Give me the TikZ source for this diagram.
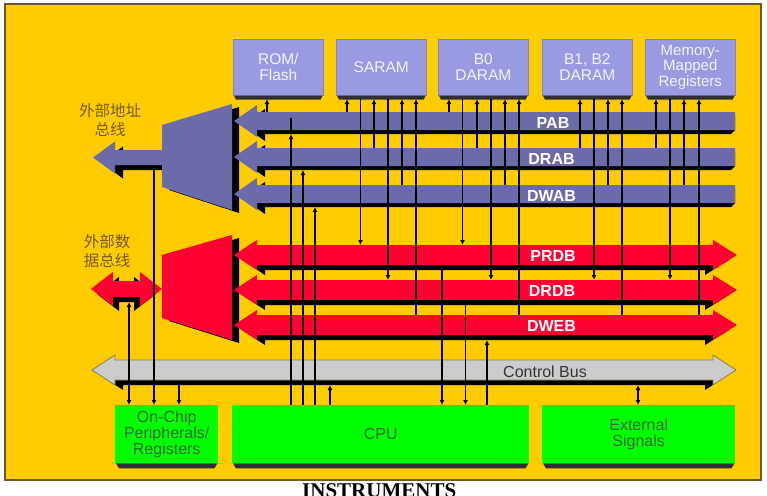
\documentclass[tikz,border=0pt]{standalone}
\usepackage{fontspec}
\setmainfont{Liberation Sans}
\newfontfamily\cjk{Noto Sans CJK SC}
\newfontfamily\serifb{Liberation Serif}
\usetikzlibrary{arrows.meta}
\definecolor{gold}{HTML}{FFCC00}
\definecolor{framec}{HTML}{6B5A2A}
\definecolor{memfill}{HTML}{9A9AE2}
\definecolor{memtext}{HTML}{F4F4FF}
\definecolor{addrbus}{HTML}{6B6BAA}
\definecolor{databus}{HTML}{FF0033}
\definecolor{ctrlbus}{HTML}{CCCCCC}
\definecolor{ctrledge}{HTML}{8C7B55}
\definecolor{chip}{HTML}{00FF00}
\definecolor{chiptext}{HTML}{2F6A2F}
\definecolor{cnbrown}{HTML}{76591A}
\definecolor{boxshade}{HTML}{2E2E36}
\newcommand\addrbusshape[1]{%
  \fill[black] (242,#1+4) -- (265,#1-12) -- (265,#1-5) -- (735,#1-5) -- (735,#1+9) -- (731,#1+13) -- (265,#1+13) -- (265,#1+20) -- cycle;
  \fill[addrbus] (234,#1) -- (257,#1-16) -- (257,#1-9) -- (735,#1-9) -- (735,#1+9) -- (257,#1+9) -- (257,#1+16) -- cycle;}
\newcommand\databusshape[1]{%
  \fill[black] (242,#1+5) -- (265,#1-10) -- (265,#1-5) -- (705,#1-5) -- (705,#1-10) -- (729,#1+5) -- (705,#1+20) -- (705,#1+15) -- (265,#1+15) -- (265,#1+20) -- cycle;
  \fill[databus] (234,#1) -- (257,#1-15) -- (257,#1-10) -- (713,#1-10) -- (713,#1-15) -- (737,#1) -- (713,#1+15) -- (713,#1+10) -- (257,#1+10) -- (257,#1+15) -- cycle;}
\begin{document}
\begin{tikzpicture}[x=1pt,y=-1pt,
  wire/.style={line width=1.8pt, draw=black},
  sig/.style={wire, -{Latex[length=5pt,width=5pt]}},
  bsig/.style={wire, {Latex[length=5pt,width=5pt]}-{Latex[length=5pt,width=5pt]}},
  membox/.style={rectangle, fill=memfill, draw=memfill!85!black, line width=0.6pt, inner sep=0pt,
    minimum width=90pt, minimum height=56pt, anchor=north west, align=center, text=memtext,
    font=\fontsize{15.5}{16}\selectfont},
  chipbox/.style={rectangle, fill=chip, inner sep=0pt, minimum height=58pt, anchor=north west,
    align=center, text=chiptext, font=\fontsize{16}{16}\selectfont},
  buslabel/.style={text=white, font=\bfseries\fontsize{16}{16}\selectfont, inner sep=0pt},
  cnlabel/.style={text=cnbrown, font=\cjk\fontsize{15.5}{19}\selectfont, align=center, inner sep=0pt},
]
\useasboundingbox (0,0) rectangle (767,495);
\fill[white] (0,0) rectangle (767,495);
\filldraw[fill=gold, draw=framec, line width=1.5pt] (5,4) rectangle (761,480);

% external address bus
\fill[black] (101,162.5) -- (123,146.5) -- (123,155) -- (165,155) -- (165,170) -- (123,170) -- (123,178.5) -- cycle;
\fill[addrbus] (93,157.5) -- (115,141.5) -- (115,150) -- (165,150) -- (165,165) -- (115,165) -- (115,173.5) -- cycle;
% external data bus
\fill[black] (97,294) -- (119,277) -- (119,286) -- (134,286) -- (134,277) -- (156,294) -- (134,311) -- (134,302) -- (119,302) -- (119,311) -- cycle;
\fill[databus] (91,289) -- (113,272) -- (113,281) -- (140,281) -- (140,272) -- (162,289) -- (140,306) -- (140,297) -- (113,297) -- (113,306) -- cycle;

% multiplexers
\fill[black] (169,128) -- (239,107) -- (239,213) -- (169,190) -- cycle;
\fill[addrbus] (162,125) -- (232,104) -- (232,210) -- (162,187) -- cycle;
\fill[black] (169,258) -- (239,238) -- (239,343) -- (169,321) -- cycle;
\fill[databus] (162,255) -- (232,235) -- (232,340) -- (162,318) -- cycle;

% internal buses
\addrbusshape{121}
\addrbusshape{157}
\addrbusshape{194}
\databusshape{255}
\databusshape{290}
\databusshape{325}

% control bus
\fill[black] (100,375) -- (123,360) -- (123,365) -- (705,365) -- (705,360) -- (728,375) -- (705,390) -- (705,385) -- (123,385) -- (123,390) -- cycle;
\filldraw[fill=ctrlbus, draw=ctrledge, line width=0.8pt] (92,370) -- (115,355) -- (115,360) -- (713,360) -- (713,355) -- (736,370) -- (713,385) -- (713,380) -- (115,380) -- (115,385) -- cycle;

% bus labels
\node[buslabel] (PAB) at (553,122.5) {PAB};
\node[buslabel] (DRAB) at (551.5,158.5) {DRAB};
\node[buslabel] (DWAB) at (551.5,195.5) {DWAB};
\node[buslabel] (PRDB) at (553,256) {PRDB};
\node[buslabel] (DRDB) at (552,290.5) {DRDB};
\node[buslabel] (DWEB) at (551.5,326) {DWEB};
\node[inner sep=0pt, text=black!80, font=\fontsize{16}{16}\selectfont] (CTRL) at (545,371.5) {Control Bus};

% memory blocks
\node[membox] (rom) at (233,39) {ROM/\\Flash};
\node[membox] (saram) at (336,39) {SARAM};
\node[membox] (bzero) at (438,39) {B0\\DARAM};
\node[membox] (bonetwo) at (542,39) {B1, B2\\DARAM};
\node[membox, font=\fontsize{15}{15.5}\selectfont] (mmr) at (645,39) {Memory-\\Mapped\\Registers};
\foreach \n in {rom,saram,bzero,bonetwo,mmr}
  \fill[boxshade] ([xshift=1pt]\n.south west) -- ([xshift=-1pt]\n.south east) -- ([xshift=-3pt,yshift=-4pt]\n.south east) -- ([xshift=3pt,yshift=-4pt]\n.south west) -- cycle;

% chip blocks
\node[chipbox, minimum width=103pt] (onchip) at (115,405) {On-Chip\\Peripherals/\\Registers};
\node[chipbox, minimum width=297pt] (cpu) at (232,405) {CPU};
\node[chipbox, minimum width=193pt] (extsig) at (542,405) {External\\Signals};
\foreach \n in {onchip,cpu,extsig}
  \fill[boxshade] ([xshift=1pt]\n.south west) -- ([xshift=-1pt]\n.south east) -- ([xshift=-4pt,yshift=-5pt]\n.south east) -- ([xshift=4pt,yshift=-5pt]\n.south west) -- cycle;

% chinese labels
\node[cnlabel] (extaddrlbl) at (110,120) {外部地址\\总线};
\node[cnlabel] (extdatalbl) at (107,251) {外部数\\据总线};

\node[anchor=base west, inner sep=0pt, font=\serifb\bfseries\fontsize{21}{21}\selectfont] (ti) at (302,497) {INSTRUMENTS};

% reference levels
\coordinate (memB) at (0,99);
\coordinate (PABin) at (0,118);
\coordinate (PABt) at (0,112);
\coordinate (PABb) at (0,134);
\coordinate (DRABt) at (0,148);
\coordinate (DRABb) at (0,170);
\coordinate (DWABt) at (0,185);
\coordinate (DWABb) at (0,207);
\coordinate (PRDBt) at (0,245);
\coordinate (PRDBb) at (0,270);
\coordinate (DRDBt) at (0,280);
\coordinate (DRDBb) at (0,305);
\coordinate (DWEBt) at (0,315);
\coordinate (DWEBb) at (0,340);
\coordinate (CTRLb) at (0,385);
\coordinate (EXAb) at (0,170);
\coordinate (EXDb) at (0,302);

% ROM
\draw[sig] (PABt -| 267,0) -- (memB -| 267,0);
% SARAM
\draw[sig] (PABt -| 347,0) -- (memB -| 347,0);
\draw[sig] (memB -| 360.5,0) -- (PRDBt -| 360.5,0);
\draw[sig] (DRABt -| 374,0) -- (memB -| 374,0);
\draw[sig] (memB -| 388,0) -- (DRDBt -| 388,0);
\draw[sig] (DWABt -| 402,0) -- (memB -| 402,0);
\draw[sig] (DWEBt -| 416,0) -- (memB -| 416,0);
% B0
\draw[sig] (PABt -| 449,0) -- (memB -| 449,0);
\draw[sig] (memB -| 462.5,0) -- (PRDBt -| 462.5,0);
\draw[sig] (DRABt -| 477,0) -- (memB -| 477,0);
\draw[sig] (memB -| 491,0) -- (DRDBt -| 491,0);
\draw[sig] (DWABt -| 505,0) -- (memB -| 505,0);
\draw[sig] (DWEBt -| 519,0) -- (memB -| 519,0);
% B1 B2
\draw[sig] (DRABt -| 580,0) -- (memB -| 580,0);
\draw[sig] (memB -| 594,0) -- (DRDBt -| 594,0);
\draw[sig] (DWABt -| 608,0) -- (memB -| 608,0);
\draw[sig] (DWEBt -| 622,0) -- (memB -| 622,0);
% MMR
\draw[sig] (DRABt -| 656,0) -- (memB -| 656,0);
\draw[sig] (memB -| 670,0) -- (DRDBt -| 670,0);
\draw[sig] (DWABt -| 684,0) -- (memB -| 684,0);
\draw[sig] (DWEBt -| 699,0) -- (memB -| 699,0);
% CPU
\draw[sig] (cpu.north -| 291,0) -- (PABb -| 291,0);
\draw[wire] (PABb -| 291,0) -- (PABin -| 291,0);
\draw[sig] (cpu.north -| 303,0) -- (DRABb -| 303,0);
\draw[sig] (cpu.north -| 315,0) -- (DWABb -| 315,0);
\draw[sig] (cpu.north -| 330,0) -- (CTRLb -| 330,0);
\draw[sig] (PRDBb -| 442,0) -- (cpu.north -| 442,0);
\draw[sig] (DRDBb -| 465.5,0) -- (cpu.north -| 465.5,0);
\draw[sig] (cpu.north -| 487,0) -- (DWEBb -| 487,0);
% on-chip peripherals
\draw[bsig] (EXDb -| 129,0) -- (onchip.north -| 129,0);
\draw[sig] (EXAb -| 154,0) -- (onchip.north -| 154,0);
\draw[sig] (CTRLb -| 179,0) -- (onchip.north -| 179,0);
% external signals
\draw[bsig] (CTRLb -| 638,0) -- (extsig.north -| 638,0);
\end{tikzpicture}
\end{document}
